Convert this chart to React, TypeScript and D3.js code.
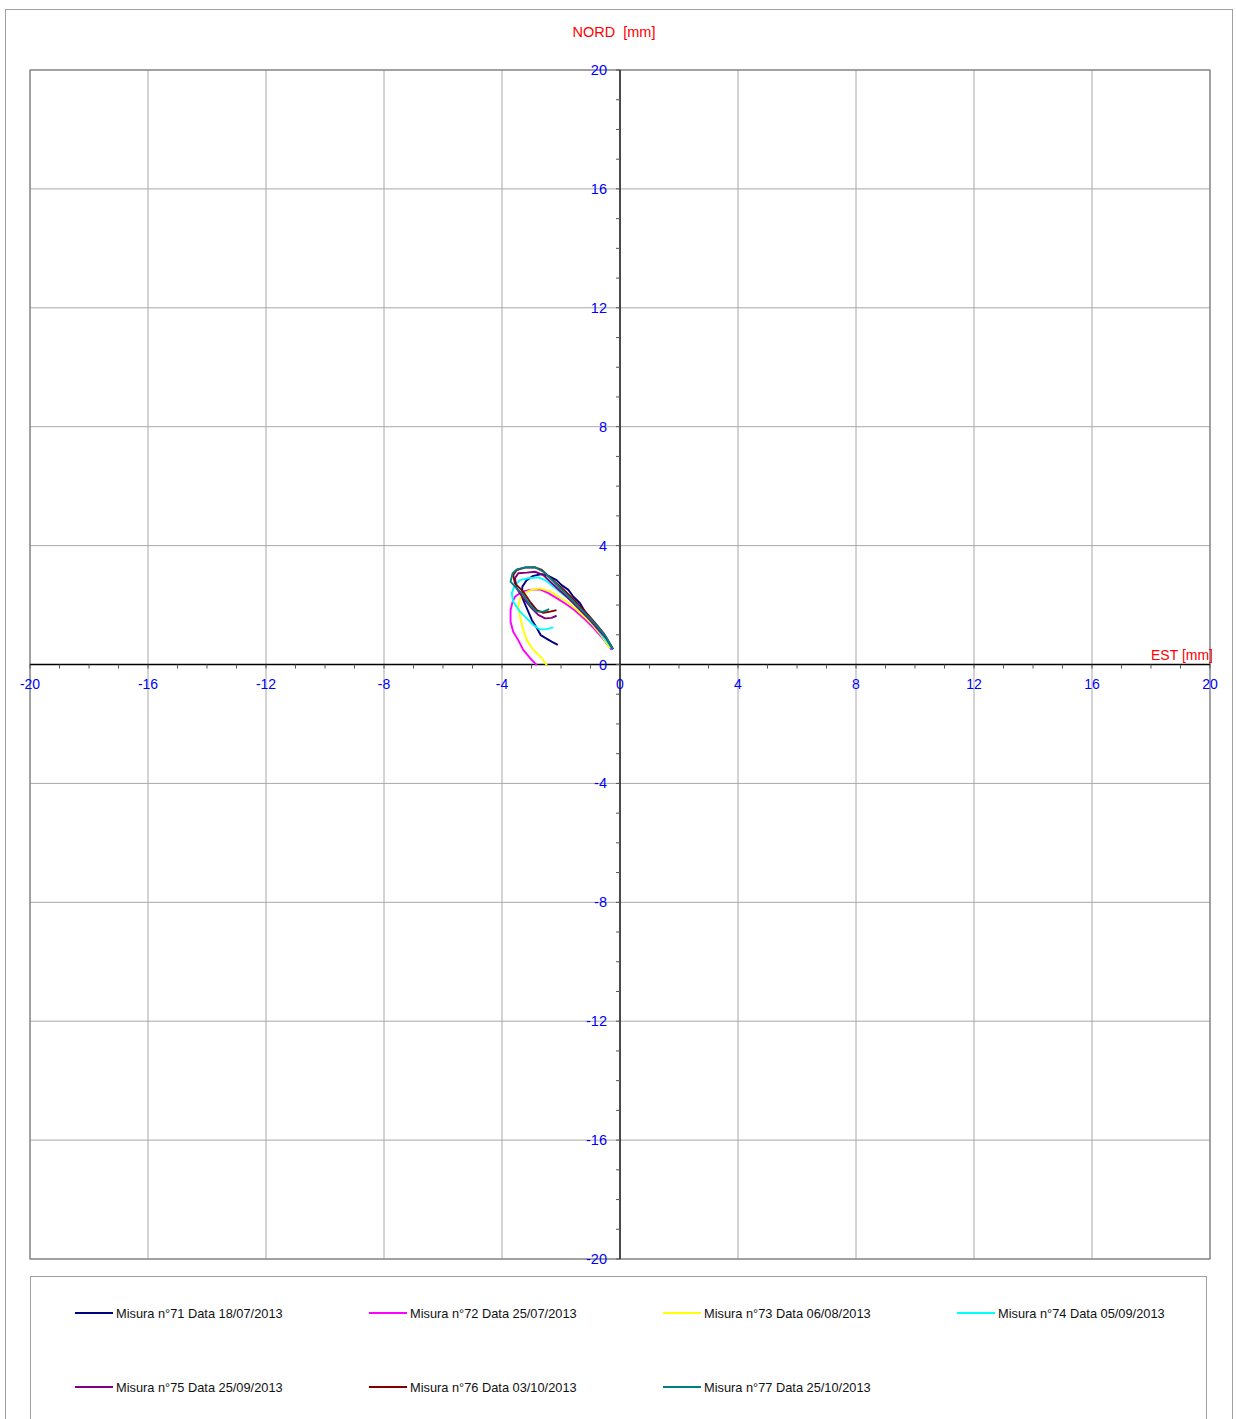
import React from "react";
import * as d3 from "d3";

type P = [number, number];

const seriesNames = [
  "Misura n°71 Data 18/07/2013",
  "Misura n°72 Data 25/07/2013",
  "Misura n°73 Data 06/08/2013",
  "Misura n°74 Data 05/09/2013",
  "Misura n°75 Data 25/09/2013",
  "Misura n°76 Data 03/10/2013",
  "Misura n°77 Data 25/10/2013",
];
const seriesColors = ["#000080", "#ff00ff", "#ffff00", "#00ffff", "#800080", "#800000", "#008080"];

const s71: P[] = [
  [-2.11, 0.66], [-2.32, 0.77], [-2.69, 0.99], [-2.82, 1.23], [-2.99, 1.5], [-3.16, 1.9], [-3.33, 2.28],
  [-3.31, 2.62], [-3.16, 2.84], [-2.94, 2.98], [-2.65, 3.04], [-2.43, 2.98], [-2.15, 2.84], [-1.98, 2.67],
  [-1.75, 2.51], [-1.58, 2.28], [-1.36, 2.07], [-1.19, 1.78], [-0.96, 1.5], [-0.74, 1.23], [-0.51, 0.94],
  [-0.25, 0.51],
];
const s72: P[] = [
  [-2.82, -0.02], [-2.99, 0.15], [-3.28, 0.49], [-3.45, 0.82], [-3.62, 1.1], [-3.71, 1.44], [-3.71, 1.83],
  [-3.64, 2.11], [-3.56, 2.28], [-3.33, 2.45], [-3.05, 2.51], [-2.71, 2.53], [-2.43, 2.4], [-2.09, 2.2],
  [-1.86, 2.05], [-1.58, 1.86], [-1.36, 1.67], [-1.13, 1.46], [-0.91, 1.24], [-0.62, 0.92], [-0.28, 0.49],
];
const s73: P[] = [
  [-2.48, -0.03], [-2.65, 0.21], [-2.94, 0.49], [-3.16, 0.82], [-3.28, 1.16], [-3.39, 1.61], [-3.45, 1.94],
  [-3.37, 2.28], [-3.22, 2.42], [-2.99, 2.51], [-2.71, 2.56], [-2.37, 2.46], [-2.09, 2.28], [-1.81, 2.12],
  [-1.53, 1.9], [-1.24, 1.64], [-0.96, 1.37], [-0.68, 1.04], [-0.34, 0.55],
];
const s74: P[] = [
  [-2.26, 1.25], [-2.48, 1.19], [-2.71, 1.18], [-2.94, 1.33], [-3.16, 1.55], [-3.39, 1.78], [-3.62, 2.11],
  [-3.67, 2.4], [-3.56, 2.67], [-3.39, 2.84], [-3.11, 2.9], [-2.77, 2.93], [-2.54, 2.84], [-2.26, 2.62],
  [-1.98, 2.4], [-1.69, 2.17], [-1.41, 1.89], [-1.13, 1.61], [-0.79, 1.22], [-0.4, 0.71], [-0.25, 0.51],
];
const s75: P[] = [
  [-2.15, 1.64], [-2.32, 1.57], [-2.54, 1.55], [-2.77, 1.67], [-2.99, 1.89], [-3.28, 2.23], [-3.5, 2.56],
  [-3.56, 2.9], [-3.45, 3.07], [-3.16, 3.09], [-2.88, 3.12], [-2.6, 3.01], [-2.37, 2.79], [-2.1, 2.54],
  [-1.83, 2.3], [-1.56, 2.04], [-1.29, 1.77], [-1.02, 1.5], [-0.75, 1.19], [-0.47, 0.89], [-0.24, 0.52],
];
const s76: P[] = [
  [-2.15, 1.83], [-2.37, 1.78], [-2.6, 1.74], [-2.82, 1.83], [-3.05, 2.11], [-3.28, 2.45], [-3.56, 2.73],
  [-3.62, 3.01], [-3.5, 3.18], [-3.22, 3.26], [-2.88, 3.27], [-2.65, 3.18], [-2.43, 2.98], [-2.15, 2.73],
  [-1.9, 2.51], [-1.63, 2.24], [-1.36, 1.97], [-1.08, 1.67], [-0.81, 1.36], [-0.54, 1.03], [-0.24, 0.52],
];
const s77: P[] = [
  [-2.4, 1.86], [-2.6, 1.78], [-2.82, 1.78], [-3.05, 2.0], [-3.28, 2.34], [-3.5, 2.56], [-3.71, 2.79],
  [-3.64, 3.07], [-3.5, 3.2], [-3.22, 3.27], [-2.88, 3.27], [-2.6, 3.12], [-2.37, 2.9], [-2.1, 2.64],
  [-1.83, 2.37], [-1.56, 2.1], [-1.29, 1.83], [-1.02, 1.56], [-0.75, 1.26], [-0.47, 0.93], [-0.24, 0.52],
];
const seriesData = [s71, s72, s73, s74, s75, s76, s77];

const majorTicks = [-20, -16, -12, -8, -4, 0, 4, 8, 12, 16, 20];
const minorTicks = d3.range(-20, 21, 1);

const W = 1236;
const H = 1419;
const plot = { left: 30, right: 1210, top: 70, bottom: 1259 };

export default function App() {
  const x = d3.scaleLinear().domain([-20, 20]).range([plot.left, plot.right]);
  const y = d3.scaleLinear().domain([-20, 20]).range([plot.bottom, plot.top]);
  const line = d3
    .line<P>()
    .x((d) => x(d[0]))
    .y((d) => y(d[1]));
  const x0 = x(0);
  const y0 = y(0);
  const font = "Arial, 'Liberation Sans', Helvetica, sans-serif";
  const blue = "#0000ff";
  const legendCols = [75, 369, 663, 957];
  const legendRows = [1313, 1387];

  return (
    <svg
      width={W}
      height={H}
      style={{ position: "absolute", left: 0, top: 0, background: "#fff" }}
      fontFamily={font}
    >
      <rect x={5.5} y={9.5} width={1227} height={1420} fill="#fff" stroke="#a0a0a0" strokeWidth={1} />
      {/* grid */}
      {majorTicks.map((t) => (
        <g key={"g" + t}>
          <line x1={x(t)} x2={x(t)} y1={plot.top} y2={plot.bottom} stroke="#a8a8a8" strokeWidth={1} />
          <line x1={plot.left} x2={plot.right} y1={y(t)} y2={y(t)} stroke="#a8a8a8" strokeWidth={1} />
        </g>
      ))}
      <rect
        x={plot.left}
        y={plot.top}
        width={plot.right - plot.left}
        height={plot.bottom - plot.top}
        fill="none"
        stroke="#707070"
        strokeWidth={1}
      />
      {/* axes */}
      <line x1={plot.left} x2={plot.right} y1={y0} y2={y0} stroke="#000" strokeWidth={1.3} />
      <line x1={x0} x2={x0} y1={plot.top} y2={plot.bottom} stroke="#000" strokeWidth={1.3} />
      {minorTicks.map((t) => (
        <g key={"t" + t}>
          <line x1={x(t)} x2={x(t)} y1={y0} y2={y0 + 4} stroke="#555" strokeWidth={1} />
          <line x1={x0 - 4} x2={x0} y1={y(t)} y2={y(t)} stroke="#555" strokeWidth={1} />
        </g>
      ))}
      {majorTicks.map((t) => (
        <g key={"l" + t}>
          <text x={x(t)} y={y0 + 24} textAnchor="middle" fontSize={14} fill={blue}>
            {t}
          </text>
          <text x={x0 - 13} y={y(t) + 5} textAnchor="end" fontSize={14.5} fill={blue}>
            {t}
          </text>
        </g>
      ))}
      <text x={614} y={37} textAnchor="middle" fontSize={14.5} fill="#ff0000" style={{ whiteSpace: "pre" }}>
        NORD  [mm]
      </text>
      <text x={1213} y={660} textAnchor="end" fontSize={14} fill="#ff0000">
        EST [mm]
      </text>
      {/* series */}
      {seriesData.map((s, i) => (
        <path key={"s" + i} d={line(s) || ""} fill="none" stroke={seriesColors[i]} strokeWidth={1.9} strokeLinejoin="round" />
      ))}
      {/* legend */}
      <rect x={30.5} y={1276.5} width={1176} height={160} fill="#fff" stroke="#a0a0a0" strokeWidth={1} />
      {seriesNames.map((n, i) => {
        const cx = legendCols[i % 4];
        const cy = legendRows[Math.floor(i / 4)];
        return (
          <g key={"lg" + i}>
            <line x1={cx} x2={cx + 38} y1={cy} y2={cy} stroke={seriesColors[i]} strokeWidth={2} />
            <text x={cx + 41} y={cy + 5} fontSize={12.8} fill="#111">
              {n}
            </text>
          </g>
        );
      })}
    </svg>
  );
}
